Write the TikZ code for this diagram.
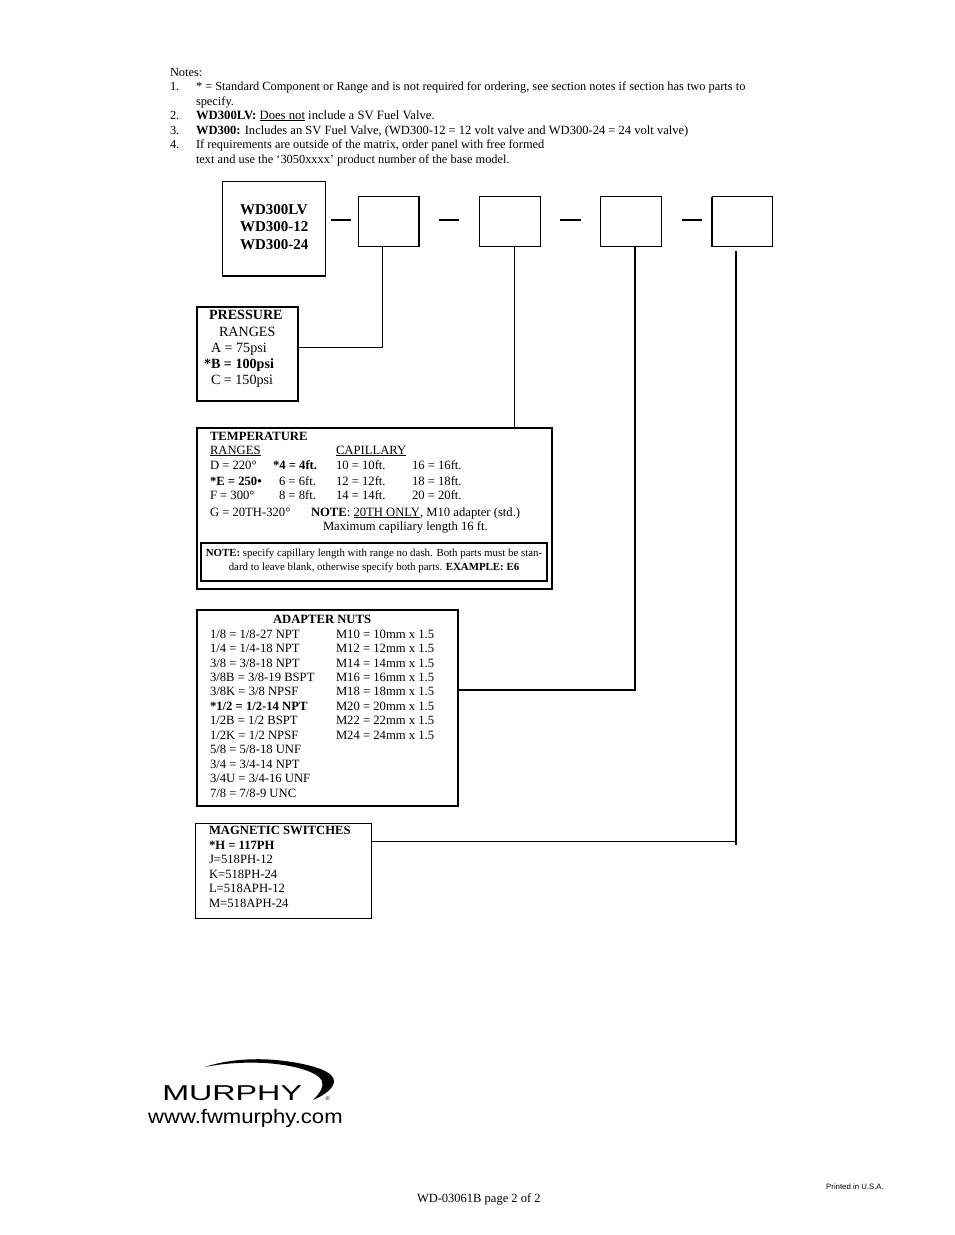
\documentclass[tikz,border=0pt]{standalone}
\usepackage{fontspec}
\setmainfont{Liberation Serif}
\newfontfamily\logosans{Liberation Sans}
\newcount\txtno
\newcommand\txtat[4][]{\global\advance\txtno 1 \node[txt,#1] (t\the\txtno) at (#2,#3) {#4};}
\newcommand\boxat[5]{\node[boxed,line width=#5pt,minimum width=#3pt,minimum height=#4pt] (#1) at #2 {};}
\tikzset{
 txt/.style={inner sep=0pt,outer sep=0pt,anchor=base west,font=\fontsize{12.65}{14}\selectfont},
 notetxt/.style={font=\fontsize{12.37}{14}\selectfont},
 bigtxt/.style={font=\fontsize{15}{16}\selectfont\bfseries},
 midtxt/.style={font=\fontsize{14.1}{16}\selectfont},
 midbold/.style={font=\fontsize{14.1}{16}\selectfont\bfseries},
 smalltxt/.style={font=\fontsize{10.87}{12}\selectfont},
 boxed/.style={draw=black,anchor=north west,inner sep=0pt,outer sep=0pt},
 dashline/.style={line width=1.5pt},
 heavyedge/.style={line width=1.8pt},
}
\begin{document}
\begin{tikzpicture}[x=1pt,y=-1pt]
\useasboundingbox (0,0) rectangle (954,1235);
% notes
\txtat[notetxt]{170}{76}{Notes:}
\txtat[notetxt]{170}{90}{1.}
\txtat[notetxt]{196}{90}{* = Standard Component or Range and is not required for ordering, see section notes if section has two parts to}
\txtat[notetxt]{196}{105}{specify.}
\txtat[notetxt]{170}{119}{2.}
\txtat[font=\fontsize{12.69}{14}\selectfont]{196}{119}{\textbf{WD300LV:} \underline{Does not} include a SV Fuel Valve.}
\txtat[notetxt]{170}{134}{3.}
\txtat[font=\fontsize{12.55}{14}\selectfont]{196}{134}{\textbf{WD300:} Includes an SV Fuel Valve, (WD300-12 = 12 volt valve and WD300-24 = 24 volt valve)}
\txtat[notetxt]{170}{148}{4.}
\txtat[notetxt]{196}{148}{If requirements are outside of the matrix, order panel with free formed}
\txtat[notetxt]{196}{163}{text and use the ‘3050xxxx’ product number of the base model.}
% model boxes
\boxat{model}{(222.5,181.5)}{103}{94.5}{1.5}
\txtat[bigtxt]{240}{214}{WD300LV}
\txtat[bigtxt]{240}{231}{WD300-12}
\txtat[bigtxt]{240}{249}{WD300-24}
\boxat{b1}{(358.5,196.5)}{60.5}{50}{.8}
\boxat{b2}{(479,196.5)}{61.5}{50}{.8}
\boxat{b3}{(600.5,196.5)}{60.5}{50}{.8}
\boxat{b4}{(712,196.5)}{60.5}{50}{.8}
\draw[heavyedge] (b1.north east) -- (b1.south east);
\draw[heavyedge] (b3.north west) -- (b3.south west);
\draw[heavyedge] (b4.north west) -- (b4.south west);
% dashes
\coordinate (d1a) at (331,220); \coordinate (d1b) at (351,220);
\coordinate (d2a) at (439,220); \coordinate (d2b) at (459,220);
\coordinate (d3a) at (560,220); \coordinate (d3b) at (581,220);
\coordinate (d4a) at (682,220); \coordinate (d4b) at (702,220);
\draw[dashline] (d1a)--(d1b); \draw[dashline] (d2a)--(d2b);
\draw[dashline] (d3a)--(d3b); \draw[dashline] (d4a)--(d4b);
% pressure
\boxat{press}{(197,307)}{101}{94}{1.2}
\txtat[midbold]{209}{319}{PRESSURE}
\txtat[midtxt]{219}{336}{RANGES}
\txtat[midtxt]{211}{352}{A = 75psi}
\txtat[midtxt]{204}{368}{\textbf{*B = 100psi}}
\txtat[midtxt]{211}{384}{C = 150psi}
% temperature
\boxat{temp}{(197,428)}{355}{161}{1.6}
\txtat{210}{440}{\textbf{TEMPERATURE}}
\txtat{210}{454}{\underline{RANGES}}
\txtat{336}{454}{\underline{CAPILLARY}}
\txtat{210}{469}{D = 220°}
\txtat{273}{469}{\textbf{*4 = 4ft.}}
\txtat{336}{469}{10 = 10ft.}
\txtat{412}{469}{16 = 16ft.}
\txtat{210}{485}{\textbf{*E = 250•}}
\txtat{279}{485}{6 = 6ft.}
\txtat{336}{485}{12 = 12ft.}
\txtat{412}{485}{18 = 18ft.}
\txtat{210}{499}{F = 300°}
\txtat{279}{499}{8 = 8ft.}
\txtat{336}{499}{14 = 14ft.}
\txtat{412}{499}{20 = 20ft.}
\txtat{210}{516}{G = 20TH-320°}
\txtat{311}{516}{\textbf{NOTE}: \underline{20TH ONLY}, M10 adapter (std.)}
\txtat{323}{530}{Maximum capiliary length 16 ft.}
\boxat{tnote}{(201,543)}{346}{38}{1.1}
\txtat[smalltxt,anchor=base]{374}{556}{\textbf{NOTE:} specify capillary length with range no dash. Both parts must be stan-}
\txtat[smalltxt,anchor=base]{374}{570}{dard to leave blank, otherwise specify both parts. \textbf{EXAMPLE: E6}}
% adapter nuts
\boxat{adapt}{(197,610)}{261}{196}{1.1}
\txtat{273}{623}{\textbf{ADAPTER NUTS}}
\txtat{210}{638}{1/8 = 1/8-27 NPT}
\txtat{210}{652}{1/4 = 1/4-18 NPT}
\txtat{210}{667}{3/8 = 3/8-18 NPT}
\txtat{210}{681}{3/8B = 3/8-19 BSPT}
\txtat{210}{695}{3/8K = 3/8 NPSF}
\txtat{210}{710}{\textbf{*1/2 = 1/2-14 NPT}}
\txtat{210}{724}{1/2B = 1/2 BSPT}
\txtat{210}{739}{1/2K = 1/2 NPSF}
\txtat{210}{753}{5/8 = 5/8-18 UNF}
\txtat{210}{768}{3/4 = 3/4-14 NPT}
\txtat{210}{782}{3/4U = 3/4-16 UNF}
\txtat{210}{797}{7/8 = 7/8-9 UNC}
\txtat{336}{638}{M10 = 10mm x 1.5}
\txtat{336}{652}{M12 = 12mm x 1.5}
\txtat{336}{667}{M14 = 14mm x 1.5}
\txtat{336}{681}{M16 = 16mm x 1.5}
\txtat{336}{695}{M18 = 18mm x 1.5}
\txtat{336}{710}{M20 = 20mm x 1.5}
\txtat{336}{724}{M22 = 22mm x 1.5}
\txtat{336}{739}{M24 = 24mm x 1.5}
% magnetic switches
\boxat{mag}{(195.5,823)}{176}{95}{.9}
\txtat{209}{834}{\textbf{MAGNETIC SWITCHES}}
\txtat{209}{849}{\textbf{*H = 117PH}}
\txtat{209}{863}{J=518PH-12}
\txtat{209}{878}{K=518PH-24}
\txtat{209}{892}{L=518APH-12}
\txtat{209}{907}{M=518APH-24}
% connectors
\coordinate (pj) at (382.5,347);
\draw[line width=.9pt] (b1.south -| pj) -- (pj) -- (pj -| press.east);
\coordinate (tj) at (514,300);
\draw[line width=.7pt] (b2.south -| tj) -- (temp.north -| tj);
\coordinate (aj) at (635,690);
\draw[line width=1.2pt] (adapt.east |- aj) -- (aj) -- (b3.south -| aj);
\coordinate (m4top) at (736,250.5);
\coordinate (m4bot) at (736,845);
\coordinate (mj) at (736,841);
\draw[line width=1.6pt] (m4top) -- (m4bot);
\draw[line width=.9pt] (mag.east |- mj) -- (mj);
% logo
\fill[black] (205,1067) .. controls (225,1060) and (255,1057) .. (285,1061)
  .. controls (315,1065) and (334,1072) .. (334,1081)
  .. controls (334,1088) and (325,1095) .. (313,1100)
  .. controls (320,1093) and (324,1087) .. (322,1081)
  .. controls (318,1072) and (295,1065) .. (265,1063)
  .. controls (245,1062) and (225,1063) .. (205,1067) -- cycle;
\node[inner sep=0pt,anchor=base west,xscale=1.5,transform shape,font=\logosans\fontsize{21.5}{24}\selectfont] (murphy) at (162,1100) {MURPHY};
\node[inner sep=0pt,anchor=base west,font=\logosans\fontsize{5.5}{6}\selectfont] (reg) at (325.5,1100) {®};
\node[inner sep=0pt,anchor=base west,xscale=1.125,transform shape,font=\logosans\fontsize{19.6}{22}\selectfont] (url) at (148,1123.5) {www.fwmurphy.com};
% footer
\txtat[font=\fontsize{12.5}{14}\selectfont]{417}{1202}{WD-03061B page 2 of 2}
\node[inner sep=0pt,anchor=base west,font=\logosans\fontsize{7.8}{9}\selectfont] (printed) at (826,1189) {Printed in U.S.A.};
\end{tikzpicture}
\end{document}
